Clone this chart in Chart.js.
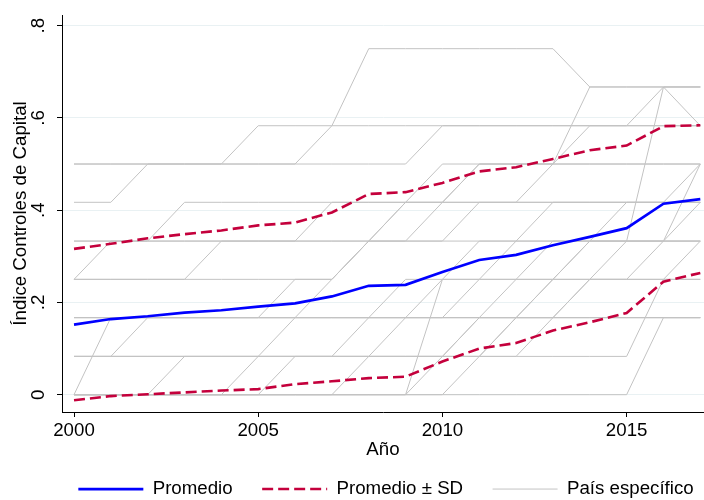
<!DOCTYPE html>
<html>
<head>
<meta charset="utf-8">
<script src="https://cdn.jsdelivr.net/npm/chart.js@4.4.0/dist/chart.umd.min.js"></script>
<style>
  html, body { margin: 0; padding: 0; background: #fff; }
  #grafico { display: block; }
</style>
</head>
<body>
<canvas id="grafico" width="704" height="500"></canvas>
<script>
// Años del eje x
const anios = [2000, 2001, 2002, 2003, 2004, 2005, 2006, 2007, 2008, 2009,
               2010, 2011, 2012, 2013, 2014, 2015, 2016, 2017];

// Promedio y bandas de +/- una desviación estándar
const promedio = [0.152, 0.164, 0.170, 0.178, 0.183, 0.191, 0.198, 0.213, 0.236,
                  0.238, 0.266, 0.292, 0.303, 0.324, 0.342, 0.361, 0.414, 0.424];
const sdAlto = [0.316, 0.327, 0.339, 0.348, 0.356, 0.367, 0.373, 0.395, 0.435,
                0.439, 0.459, 0.484, 0.493, 0.511, 0.530, 0.540, 0.582, 0.584];
const sdBajo = [-0.012, -0.003, 0.001, 0.005, 0.009, 0.012, 0.023, 0.029, 0.036,
                0.039, 0.072, 0.100, 0.112, 0.139, 0.157, 0.177, 0.245, 0.264];

// Series por país (valores del índice)
const paises = [
  [.5, .5, .5, .5, .5, .5, .5, .583, .75, .75, .75, .75, .75, .75, .667, .667, .667, .667],
  [.417, .417, .5, .5, .5, .583, .583, .583, .583, .583, .583, .583, .583, .583, .583, .583, .667, .583],
  [.5, .5, .5, .5, .5, .5, .5, .5, .5, .5, .583, .583, .583, .583, .583, .583, .583, .583],
  [.25, .333, .333, .417, .417, .417, .417, .417, .417, .417, .417, .5, .5, .5, .5, .5, .5, .5],
  [.25, .25, .25, .25, .333, .333, .333, .417, .417, .417, .417, .417, .417, .5, .667, .667, .667, .667],
  [.333, .333, .333, .333, .333, .333, .333, .333, .333, .333, .417, .5, .5, .5, .5, .5, .5, .5],
  [.333, .333, .333, .333, .333, .333, .333, .333, .333, .333, .333, .417, .417, .417, .417, .417, .417, .417],
  [.167, .167, .167, .167, .167, .167, .167, .167, .167, .167, .167, .25, .333, .417, .417, .417, .417, .5],
  [0, .167, .167, .167, .167, .167, .167, .167, .167, .167, .167, .167, .167, .167, .167, .167, .167, .167],
  [.083, .083, .167, .167, .167, .167, .167, .167, .167, .167, .167, .167, .167, .167, .167, .167, .167, .167],
  [0, 0, 0, .083, .083, .083, .083, .083, .083, .083, .083, .083, .083, .083, .083, .083, .25, .25],
  [0, 0, 0, 0, 0, .083, .167, .25, .333, .417, .417, .417, .417, .417, .417, .417, .417, .417],
  [0, 0, 0, 0, 0, 0, 0, 0, 0, 0, .25, .25, .25, .25, .25, .25, .25, .333],
  [0, 0, 0, 0, 0, 0, 0, 0, 0, 0, .083, .167, .25, .333, .333, .333, .333, .333],
  [0, 0, 0, 0, 0, 0, 0, 0, 0, 0, 0, 0, 0, 0, 0, 0, .167, .167],
  [.167, .167, .167, .167, .167, .167, .167, .167, .167, .167, .167, .167, .167, .167, .25, .333, .667, .667],
  [.083, .083, .083, .083, .083, .083, .083, .083, .083, .083, .083, .083, .083, .167, .25, .25, .333, .5],
  [.167, .167, .167, .167, .167, .167, .25, .25, .333, .333, .333, .333, .333, .333, .333, .333, .333, .417],
  [.083, .083, .083, .083, .083, .083, .083, .083, .167, .25, .25, .25, .25, .25, .25, .25, .25, .25],
  [0, 0, 0, 0, 0, 0, 0, 0, .083, .167, .25, .333, .333, .333, .333, .333, .333, .333],
  [.25, .25, .25, .25, .25, .25, .25, .25, .333, .417, .5, .5, .5, .5, .583, .583, .583, .583],
  [0, 0, 0, 0, 0, 0, .083, .083, .083, .083, .083, .167, .167, .167, .167, .167, .167, .167],
  [.083, .083, .083, .083, .083, .083, .083, .083, .083, .083, .083, .083, .167, .25, .333, .417, .417, .417],
  [0, 0, 0, 0, 0, 0, 0, 0, 0, 0, 0, .083, .167, .25, .333, .333, .333, .333]
];

// Marcas de los ejes
const xTicks = [2000, 2005, 2010, 2015];
const yTicks = [0, 0.2, 0.4, 0.6, 0.8];
const yTickLabels = ['0', '.2', '.4', '.6', '.8'];

const azul = '#0000ff';
const rojo = '#c4003c';
const gris = '#c3c3c3';
const guiones = [11, 5];

Chart.defaults.font.family = '"Liberation Sans", Arial, sans-serif';
Chart.defaults.font.size = 18.7;
Chart.defaults.color = '#000';

const puntos = (serie) => anios.map((a, i) => ({ x: a, y: serie[i] }));

// El primero se dibuja encima de los demás
const datasets = [
  { label: 'Promedio', data: puntos(promedio), borderColor: azul, borderWidth: 2.7 },
  { label: 'Promedio ± SD', data: puntos(sdAlto), borderColor: rojo, borderWidth: 2.6, borderDash: guiones },
  { label: 'Promedio ± SD', data: puntos(sdBajo), borderColor: rojo, borderWidth: 2.6, borderDash: guiones },
  ...paises.map((p) => ({ label: 'País específico', data: puntos(p), borderColor: gris, borderWidth: 1 }))
];

// Entradas de la leyenda
const leyenda = [
  { text: 'Promedio', strokeStyle: azul, lineWidth: 2.7, lineDash: [] },
  { text: 'Promedio ± SD', strokeStyle: rojo, lineWidth: 2.6, lineDash: guiones },
  { text: 'País específico', strokeStyle: gris, lineWidth: 1, lineDash: [] }
];

// Desplaza la leyenda para centrarla como en el original
const moverLeyenda = {
  id: 'moverLeyenda',
  afterLayout(chart) {
    const l = chart.legend;
    l.left += 34; l.right += 34;
    l.top += 8.4; l.bottom += 8.4;
  }
};

new Chart(document.getElementById('grafico'), {
  type: 'line',
  data: { datasets: datasets },
  plugins: [moverLeyenda],
  options: {
    responsive: false,
    animation: false,
    devicePixelRatio: 1,
    layout: { padding: { top: 15, right: 0, bottom: 0, left: 0 } },
    elements: {
      point: { radius: 0 },
      line: { tension: 0, fill: false }
    },
    scales: {
      x: {
        type: 'linear',
        min: 1999.674,
        max: 2017.1,
        afterBuildTicks: (s) => { s.ticks = xTicks.map((v) => ({ value: v })); },
        afterFit: (s) => { s.height = 29.8; s.paddingLeft = 0; s.paddingRight = 0; },
        ticks: {
          padding: 2.8,
          maxRotation: 0,
          minRotation: 0,
          autoSkip: false,
          callback: (v) => String(v)
        },
        grid: { drawOnChartArea: false, tickLength: 5, tickColor: '#000' },
        border: { color: '#000', width: 1 },
        title: { display: true, text: 'Año', padding: { top: 0, bottom: -19.4 } }
      },
      y: {
        min: -0.0375,
        max: 0.823,
        afterBuildTicks: (s) => { s.ticks = yTicks.map((v) => ({ value: v })); },
        afterFit: (s) => { s.width = 62; s.paddingTop = 0; s.paddingBottom = 0; },
        ticks: {
          minRotation: 90,
          maxRotation: 90,
          crossAlign: 'center',
          padding: 10.7,
          callback: (v) => yTickLabels[yTicks.indexOf(v)]
        },
        grid: { color: '#e9f1f3', lineWidth: 1, tickLength: 5, tickColor: '#000' },
        border: { color: '#000', width: 1 },
        title: { display: true, text: 'Índice Controles de Capital', padding: { top: 9.8, bottom: 0 } }
      }
    },
    plugins: {
      tooltip: { enabled: false },
      legend: {
        position: 'bottom',
        labels: {
          usePointStyle: true,
          pointStyleWidth: 65,
          padding: 29.5,
          color: '#000',
          generateLabels: () => leyenda.map((e) => ({
            text: e.text,
            strokeStyle: e.strokeStyle,
            fillStyle: e.strokeStyle,
            lineWidth: e.lineWidth,
            lineDash: e.lineDash,
            pointStyle: 'line',
            fontColor: '#000',
            hidden: false
          }))
        }
      }
    }
  }
});
</script>
</body>
</html>
